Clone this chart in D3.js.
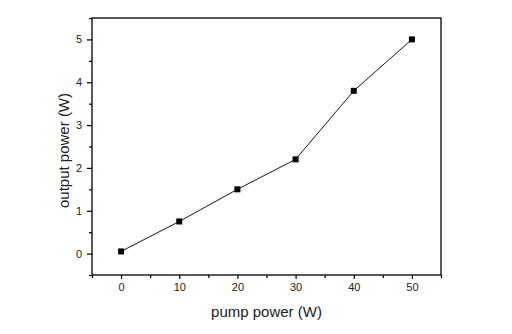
<!DOCTYPE html>
<html><head><meta charset="utf-8">
<script src="https://cdn.jsdelivr.net/npm/d3@7/dist/d3.min.js"></script>
<style>html,body{margin:0;padding:0;background:#fff;}svg{display:block;}</style>
</head><body>
<svg id="chart" width="512" height="334"></svg>
<script>
const pumpPower = [0, 10, 20, 30, 40, 50];
const outputPower = [0.05, 0.75, 1.5, 2.2, 3.8, 5.0];
const xTicks = [0, 10, 20, 30, 40, 50];
const yTicks = [0, 1, 2, 3, 4, 5];
const xMinor = [-5, 5, 15, 25, 35, 45, 55];
const yMinor = [-0.5, 0.5, 1.5, 2.5, 3.5, 4.5, 5.5];
const xLabel = "pump power (W)";
const yLabel = "output power (W)";

const svg = d3.select("#chart");
const m = {left: 92, right: 441, top: 18, bottom: 275};
const x = d3.scaleLinear().domain([-5, 55]).range([m.left, m.right]);
const y = d3.scaleLinear().domain([-0.5, 5.5]).range([m.bottom, m.top]);
const font = "'Liberation Sans', Arial, sans-serif";

// frame
svg.append("rect").attr("x", m.left).attr("y", m.top)
  .attr("width", m.right - m.left).attr("height", m.bottom - m.top)
  .attr("fill", "none").attr("stroke", "#000").attr("stroke-width", 1.3);

// x axis
const gx = svg.append("g").attr("transform", `translate(0,${m.bottom})`);
gx.call(d3.axisBottom(x).tickValues(xTicks).tickSize(4).tickPadding(4).tickFormat(d3.format("d")));
const gxm = svg.append("g").attr("transform", `translate(0,${m.bottom})`);
gxm.call(d3.axisBottom(x).tickValues(xMinor).tickSize(3).tickFormat(""));
// y axis
const gy = svg.append("g").attr("transform", `translate(${m.left},0)`);
gy.call(d3.axisLeft(y).tickValues(yTicks).tickSize(5).tickPadding(5).tickFormat(d3.format("d")));
const gym = svg.append("g").attr("transform", `translate(${m.left},0)`);
gym.call(d3.axisLeft(y).tickValues(yMinor).tickSize(3).tickFormat(""));

svg.selectAll(".domain").remove();
svg.selectAll(".tick line").attr("stroke", "#000").attr("stroke-width", 1.2);
svg.selectAll(".tick text").attr("font-family", font).attr("font-size", 11).attr("fill", "#222");

// line
const pts = pumpPower.map((p, i) => [p, outputPower[i]]);
svg.append("path").datum(pts)
  .attr("fill", "none").attr("stroke", "#000").attr("stroke-width", 0.9)
  .attr("d", d3.line().x(d => x(d[0])).y(d => y(d[1])));
const s = 6;
svg.selectAll("rect.pt").data(pts).enter().append("rect").attr("class", "pt")
  .attr("x", d => x(d[0]) - s / 2).attr("y", d => y(d[1]) - s / 2)
  .attr("width", s).attr("height", s).attr("fill", "#000");

// labels
svg.append("text").attr("x", (m.left + m.right) / 2).attr("y", 317)
  .attr("text-anchor", "middle").attr("font-family", font).attr("font-size", 15)
  .attr("fill", "#222").text(xLabel);
svg.append("text").attr("transform", `translate(69,${(m.top + m.bottom) / 2 + 4}) rotate(-90)`)
  .attr("text-anchor", "middle").attr("font-family", font).attr("font-size", 15)
  .attr("fill", "#222").text(yLabel);
</script>
</body></html>
